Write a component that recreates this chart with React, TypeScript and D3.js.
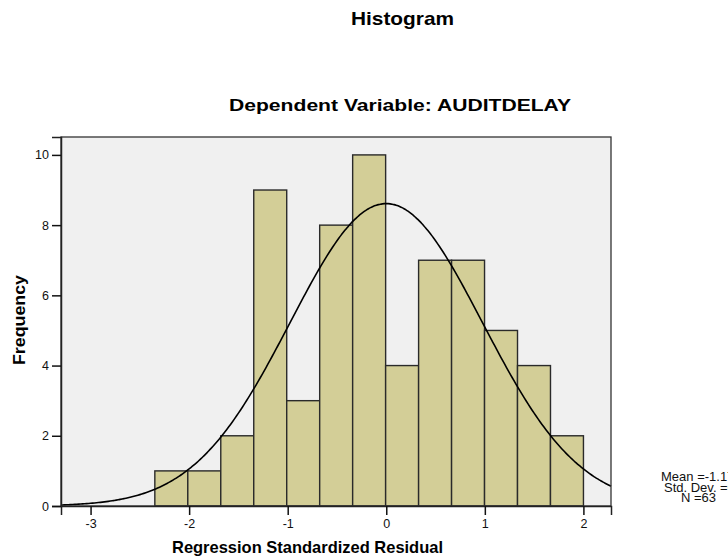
import React, { useEffect, useRef } from 'react';
import * as d3 from 'd3';

// histogram counts
const binStart = -2.348;
const binWidth = 0.3345;
const counts = [1, 1, 2, 9, 3, 8, 10, 4, 7, 7, 5, 4, 2];

const xTicks = [-3, -2, -1, 0, 1, 2];
const yTicks = [0, 2, 4, 6, 8, 10];

// fitted normal curve parameters
const fitMean = 0;
const fitSd = 0.976;
const nTotal = 63;

const statLines = ['Mean =-1.17E-15', 'Std. Dev. =0.976', 'N =63'];

const FONT = '"Liberation Sans", Arial, Helvetica, sans-serif';

const App = () => {
  const ref = useRef<SVGSVGElement | null>(null);

  useEffect(() => {
    const svg = d3.select(ref.current);
    svg.selectAll('*').remove();

    const left = 61, right = 611, top = 137, bottom = 506;

    const x = d3.scaleLinear().domain([-3.3, 2.28]).range([left, right]);
    const y = d3.scaleLinear().domain([0, 10.51]).range([bottom, top]);

    // plot background
    svg.append('rect')
      .attr('x', left).attr('y', top)
      .attr('width', right - left).attr('height', bottom - top)
      .attr('fill', '#f0f0f0');

    // bars
    svg.append('g')
      .selectAll('rect')
      .data(counts)
      .join('rect')
      .attr('x', (d, i) => x(binStart + i * binWidth))
      .attr('y', d => y(d))
      .attr('width', (d, i) => x(binStart + (i + 1) * binWidth) - x(binStart + i * binWidth))
      .attr('height', d => y(0) - y(d))
      .attr('fill', '#d3ce97')
      .attr('stroke', '#2a2a2a')
      .attr('stroke-width', 1.4);

    // normal curve
    const scaleK = nTotal * binWidth / (fitSd * Math.sqrt(2 * Math.PI));
    const xs = d3.range(-3.3, 2.2801, 0.02);
    const line = d3.line<number>()
      .x(v => x(v))
      .y(v => y(scaleK * Math.exp(-((v - fitMean) ** 2) / (2 * fitSd * fitSd))))
      .curve(d3.curveBasis);
    svg.append('path')
      .datum(xs)
      .attr('fill', 'none')
      .attr('stroke', '#000')
      .attr('stroke-width', 1.6)
      .attr('d', line);

    // frame
    svg.append('rect')
      .attr('x', left).attr('y', top)
      .attr('width', right - left).attr('height', bottom - top)
      .attr('fill', 'none')
      .attr('stroke', '#333')
      .attr('stroke-width', 1.3);

    const fmt = (d: d3.NumberValue) => String(d);

    svg.append('g')
      .attr('transform', `translate(${left},0)`)
      .call(d3.axisLeft(y).tickValues(yTicks).tickSize(9).tickPadding(3).tickFormat(fmt))
      .call(g => g.select('.domain').attr('stroke', '#222').attr('stroke-width', 1.5))
      .call(g => g.selectAll('.tick line').attr('stroke', '#111').attr('stroke-width', 1.5))
      .call(g => g.selectAll('.tick text').attr('font-size', 12.5).attr('font-family', FONT).attr('fill', '#111'));

    svg.append('g')
      .attr('transform', `translate(0,${bottom})`)
      .call(d3.axisBottom(x).tickValues(xTicks).tickSize(9).tickPadding(4).tickFormat(fmt))
      .call(g => g.select('.domain').attr('stroke', '#222').attr('stroke-width', 1.5))
      .call(g => g.selectAll('.tick line').attr('stroke', '#111').attr('stroke-width', 1.5))
      .call(g => g.selectAll('.tick text').attr('font-size', 12.5).attr('font-family', FONT).attr('fill', '#111'));

    // titles
    svg.append('text')
      .attr('x', 402.5).attr('y', 25)
      .attr('text-anchor', 'middle')
      .attr('font-family', FONT).attr('font-weight', 'bold').attr('font-size', 19)
      .attr('textLength', 103).attr('lengthAdjust', 'spacingAndGlyphs')
      .text('Histogram');

    svg.append('text')
      .attr('x', 400).attr('y', 111)
      .attr('text-anchor', 'middle')
      .attr('font-family', FONT).attr('font-weight', 'bold').attr('font-size', 17)
      .attr('textLength', 342).attr('lengthAdjust', 'spacingAndGlyphs')
      .text('Dependent Variable: AUDITDELAY');

    svg.append('text')
      .attr('x', 307.5).attr('y', 553)
      .attr('text-anchor', 'middle')
      .attr('font-family', FONT).attr('font-weight', 'bold').attr('font-size', 17)
      .attr('textLength', 271).attr('lengthAdjust', 'spacingAndGlyphs')
      .text('Regression Standardized Residual');

    svg.append('text')
      .attr('transform', 'translate(25,320) rotate(-90)')
      .attr('text-anchor', 'middle')
      .attr('font-family', FONT).attr('font-weight', 'bold').attr('font-size', 17)
      .attr('textLength', 90).attr('lengthAdjust', 'spacingAndGlyphs')
      .text('Frequency');

    // stats text, runs off the right edge like the original
    const statX = [661, 664, 681];
    svg.append('g')
      .selectAll('text')
      .data(statLines)
      .join('text')
      .attr('x', (d, i) => statX[i])
      .attr('y', (d, i) => 481 + i * 10.5)
      .attr('font-family', FONT).attr('font-size', 13)
      .attr('fill', '#111')
      .text(d => d);
  }, []);

  return (
    <svg ref={ref} width={728} height={558}
      style={{ position: 'absolute', left: 0, top: 0, background: '#fff' }} />
  );
};

export default App;
